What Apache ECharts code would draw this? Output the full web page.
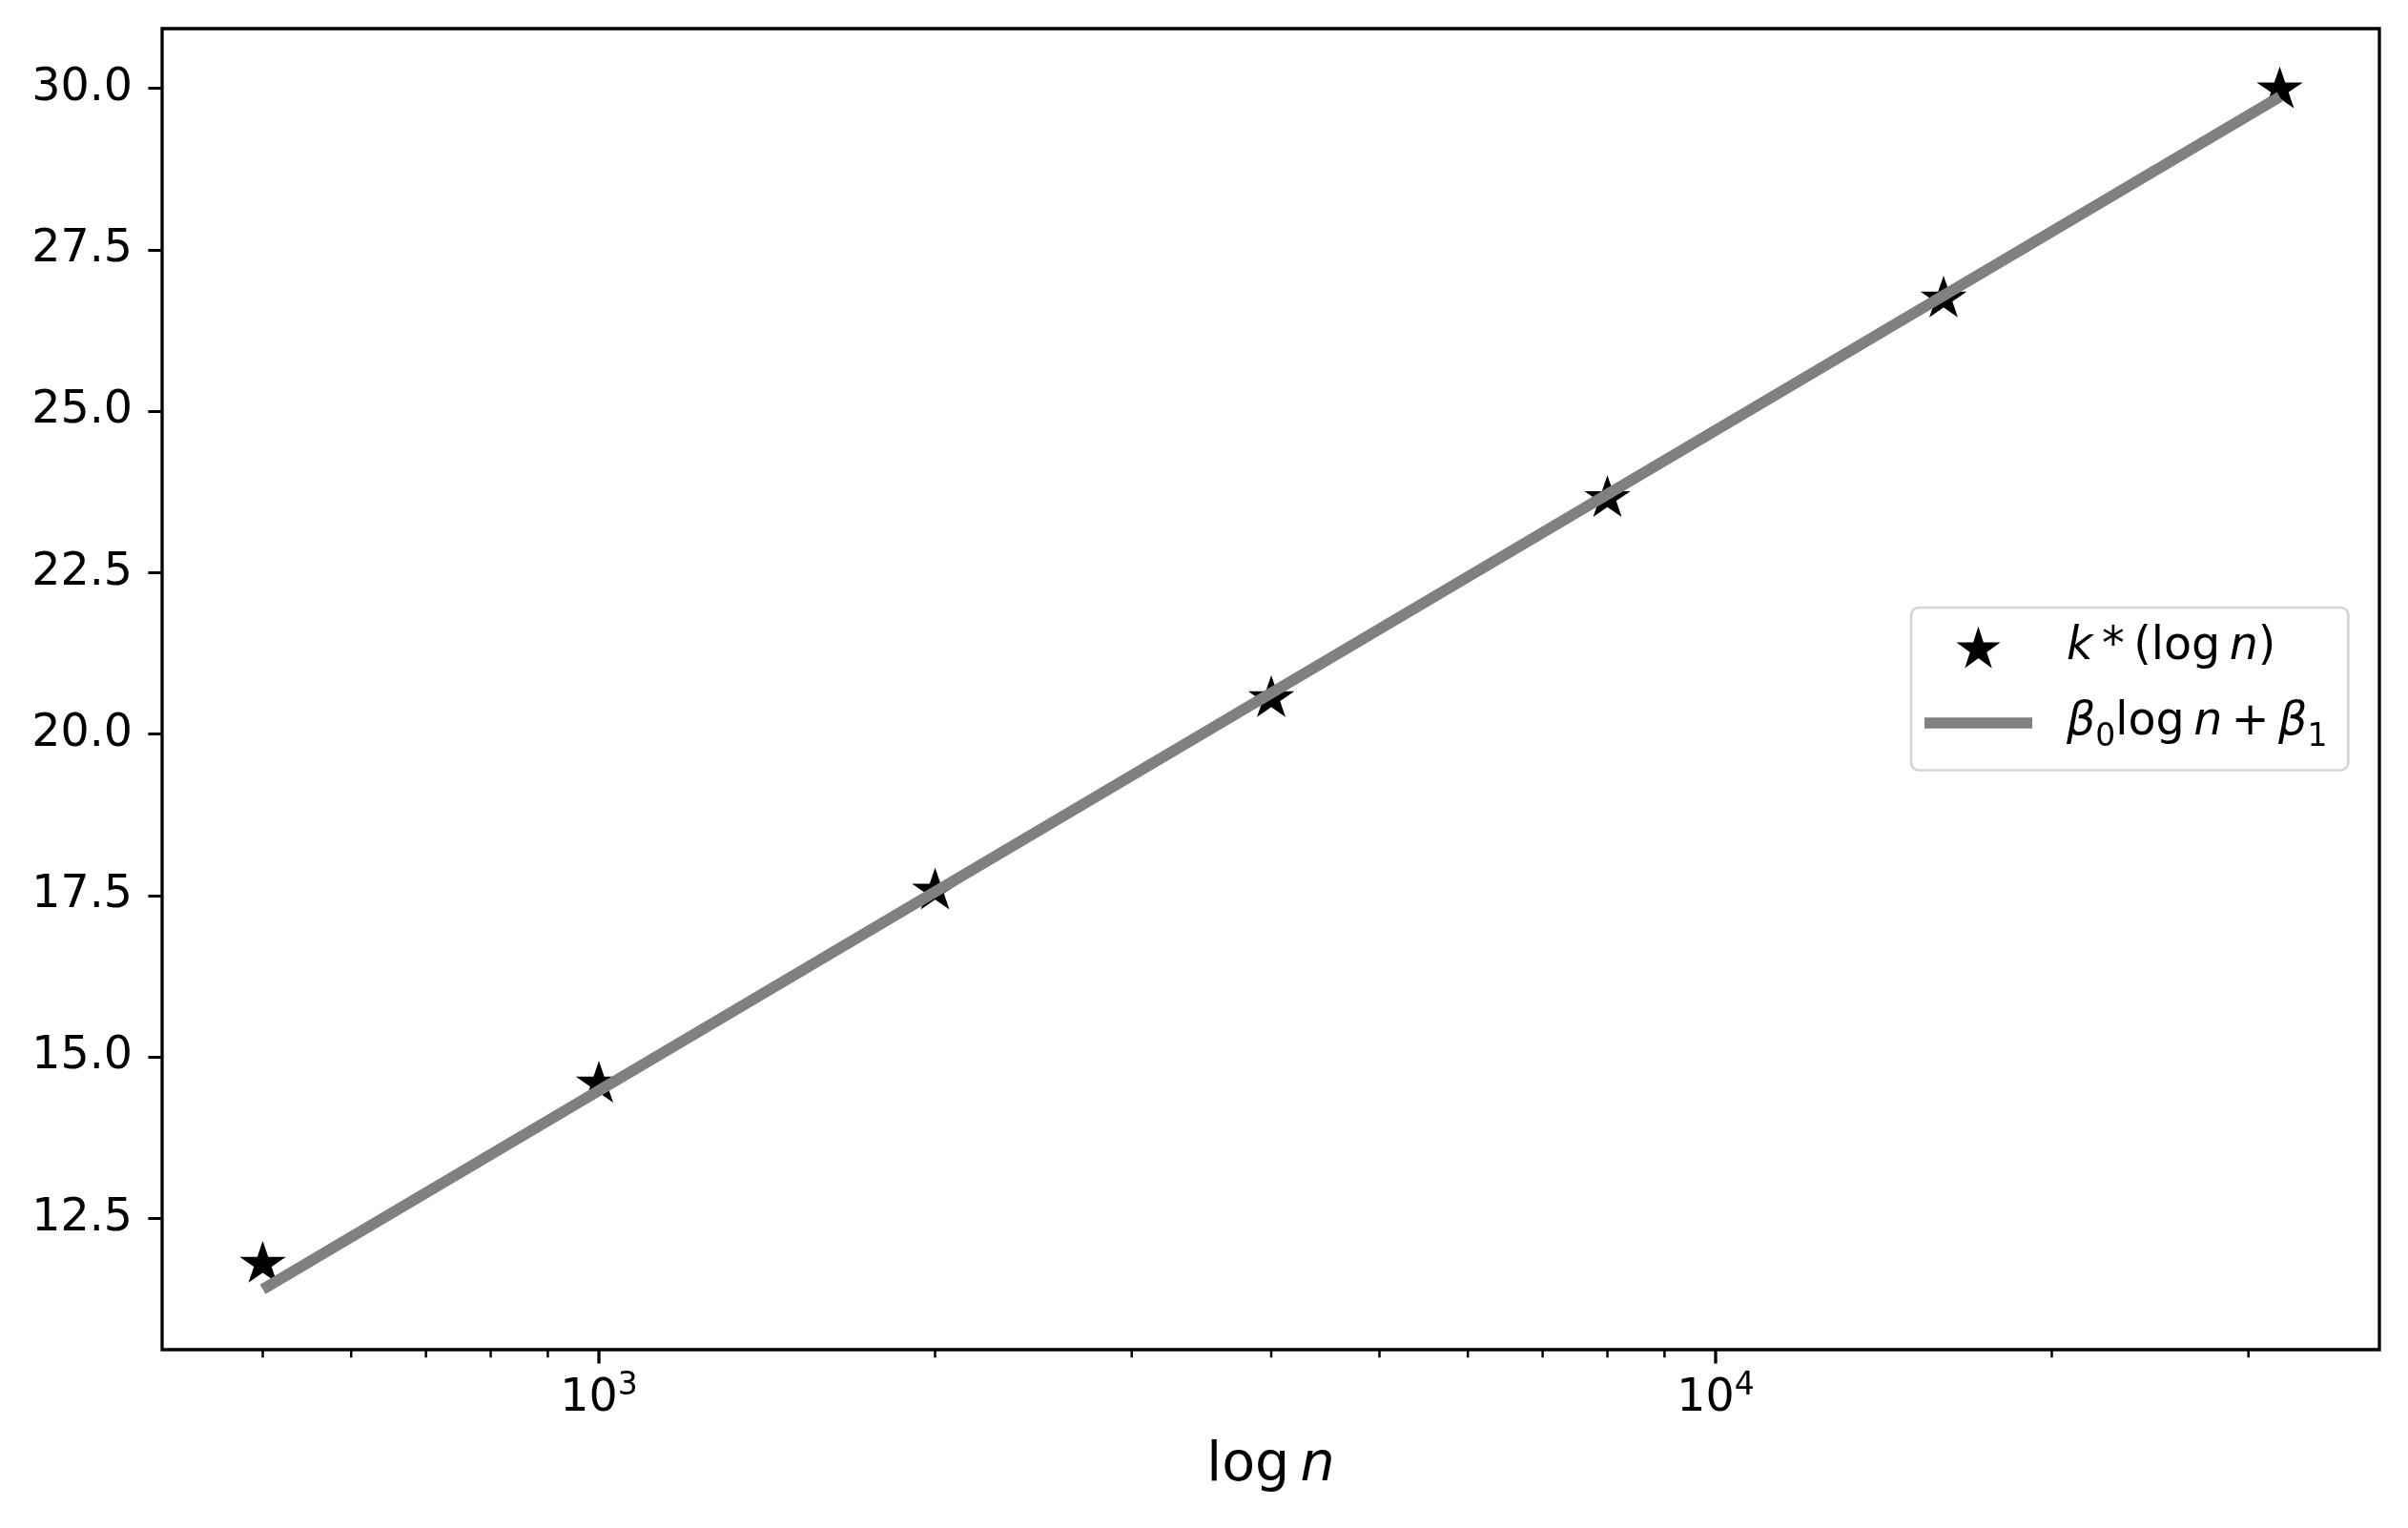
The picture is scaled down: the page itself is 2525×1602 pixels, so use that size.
<!DOCTYPE html>
<html style="height: 100%">

<head>
    <meta charset="utf-8">
</head>

<body style="height: 100%; margin: 0; background: #fff">
    <div id="container" style="width: 2525px; height: 1602px"></div>
    <script src="https://cdn.jsdelivr.net/npm/echarts@6/dist/echarts.min.js"></script>
    <script>
        // measured values
        const nValues = [500, 1000, 2000, 4000, 8000, 16000, 32000];
        const kStar = [11.82, 14.61, 17.60, 20.58, 23.68, 26.77, 30.01];
        const fitN = [500, 32000];
        const fitK = [11.40, 29.87];

        const yTicks = [12.5, 15, 17.5, 20, 22.5, 25, 27.5, 30];
        const xMajorTicks = [1000, 10000];
        const xMinorTicks = [500, 600, 700, 800, 900, 2000, 3000, 4000, 5000, 6000, 7000, 8000, 9000, 20000, 30000];

        const xMin = 406.3, xMax = 39300;
        const yMin = 10.466, yMax = 30.926;

        const starName = 'k*(log n)';
        const fitName = 'β0 log n + β1';

        const font = 'DejaVu Sans';

        // matplotlib-like 5 point star
        function starPath() {
            const pts = [];
            for (let i = 0; i < 10; i++) {
                const r = i % 2 ? 38.1966 : 100;
                const a = Math.PI * (i * 36 - 90) / 180;
                pts.push((r * Math.cos(a)).toFixed(2) + ' ' + (r * Math.sin(a)).toFixed(2));
            }
            return 'path://M' + pts.join(' L') + ' Z';
        }

        function tickSeries(values, len, width) {
            return {
                type: 'custom',
                silent: true,
                clip: false,
                z: 10,
                data: values.map(v => [v, yMin]),
                renderItem: (params, api) => {
                    const x = api.coord([api.value(0), yMin])[0];
                    const y0 = params.coordSys.y + params.coordSys.height;
                    return {
                        type: 'line',
                        shape: { x1: x, y1: y0, x2: x, y2: y0 + len },
                        style: { stroke: '#000', lineWidth: width }
                    };
                }
            };
        }

        const dom = document.getElementById('container');
        const myChart = echarts.init(dom, null, { renderer: 'canvas' });

        const option = {
            animation: false,
            backgroundColor: '#fff',
            textStyle: { fontFamily: font },
            grid: {
                left: 170,
                right: 30,
                top: 30,
                bottom: 187,
                show: true,
                borderColor: '#000',
                borderWidth: 3.3,
                backgroundColor: 'transparent',
                containLabel: false,
                outerBoundsMode: 'none'
            },
            xAxis: {
                type: 'log',
                logBase: 10,
                min: xMin,
                max: xMax,
                axisLine: { show: false },
                axisTick: { show: false },
                splitLine: { show: false },
                axisLabel: {
                    margin: 22,
                    color: '#000',
                    showMinLabel: false,
                    showMaxLabel: false,
                    formatter: function (v) {
                        const e = Math.log10(v);
                        if (Math.abs(e - Math.round(e)) > 1e-6) return '';
                        return '{b|10}{s|' + Math.round(e) + '}';
                    },
                    rich: {
                        b: { fontSize: 47.5, fontFamily: font, color: '#000' },
                        s: { fontSize: 33, fontFamily: font, color: '#000', padding: [0, 0, 26, 0] }
                    }
                },
                name: '{r|log\u2009}{i|n}',
                nameLocation: 'middle',
                nameGap: 94,
                nameTextStyle: {
                    rich: {
                        r: { fontSize: 57, fontFamily: font, color: '#000' },
                        i: { fontSize: 57, fontFamily: font, fontStyle: 'italic', color: '#000' }
                    }
                }
            },
            yAxis: {
                type: 'value',
                min: yMin,
                max: yMax,
                axisLine: { show: false },
                splitLine: { show: false },
                axisTick: {
                    show: true,
                    length: 14.6,
                    customValues: yTicks,
                    lineStyle: { color: '#000', width: 3 }
                },
                axisLabel: {
                    show: true,
                    customValues: yTicks,
                    margin: 31,
                    color: '#000',
                    fontSize: 47.5,
                    fontFamily: font,
                    formatter: v => v.toFixed(1)
                }
            },
            legend: {
                orient: 'vertical',
                left: 2004,
                top: 637,
                data: [
                    { name: starName },
                    { name: fitName, icon: 'path://M0 0 L100 0 L100 10.2 L0 10.2 Z', itemStyle: { color: '#808080', borderWidth: 0 } }
                ],
                itemWidth: 113,
                itemHeight: 38,
                itemGap: 31,
                padding: [18, 22, 18, 14],
                backgroundColor: '#fff',
                borderColor: '#d5d5d5',
                borderWidth: 2.7,
                borderRadius: 8,
                selectedMode: false,
                formatter: function (name) {
                    if (name === starName) {
                        return '{i|k}{r|\u2009*\u2009(log\u2009}{i|n}{r|)}';
                    }
                    return '{i|β}{s|0}{r|log\u2009}{i|n}{r|\u2009+\u2009}{i|β}{s|1}';
                },
                textStyle: {
                    padding: [0, 0, 0, 31],
                    rich: {
                        r: { fontSize: 47.5, fontFamily: font, color: '#000' },
                        i: { fontSize: 47.5, fontFamily: font, fontStyle: 'italic', color: '#000' },
                        s: { fontSize: 33, fontFamily: font, color: '#000', padding: [30, 0, 0, 0] }
                    }
                }
            },
            series: [
                {
                    name: starName,
                    type: 'scatter',
                    symbol: starPath(),
                    symbolSize: [39, 37],
                    symbolKeepAspect: true,
                    itemStyle: { color: '#000', opacity: 1, borderColor: '#000', borderWidth: 3 },
                    data: nValues.map((n, i) => [n, kStar[i]])
                },
                {
                    name: fitName,
                    type: 'line',
                    symbol: 'none',
                    showSymbol: false,
                    lineStyle: { color: '#808080', width: 11.5, cap: 'butt' },
                    itemStyle: { color: '#808080' },
                    data: fitN.map((n, i) => [n, fitK[i]])
                },
                tickSeries(xMajorTicks, 14.6, 3.3),
                tickSeries(xMinorTicks, 8.3, 2.5)
            ]
        };

        myChart.setOption(option);
    </script>
</body>

</html>
